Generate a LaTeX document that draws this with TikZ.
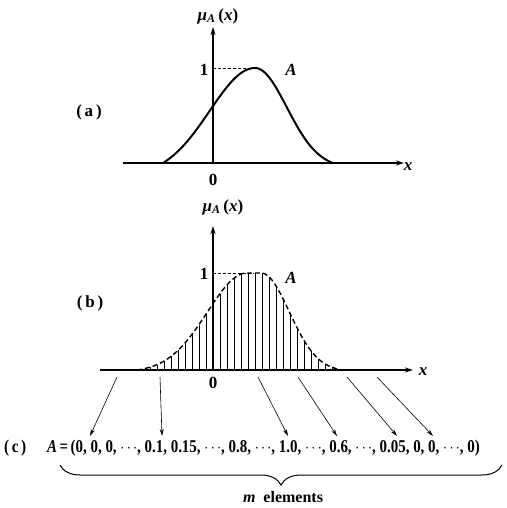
\documentclass[tikz,border=0pt]{standalone}
\usepackage{fontspec}
\setmainfont{Liberation Serif}
\usetikzlibrary{arrows.meta,decorations.pathreplacing}
\begin{document}
\begin{tikzpicture}[x=1pt,y=-1pt,
  lbl/.style={font=\bfseries\fontsize{17}{19}\selectfont, inner sep=0pt},
  axisline/.style={line width=1.4pt, -{Stealth[length=8pt,width=5pt]}},
  curvea/.style={line width=2pt},
  curveb/.style={line width=1.4pt, dash pattern=on 5pt off 3pt},
  hatch/.style={line width=0.9pt},
  guide/.style={line width=0.8pt, dash pattern=on 3pt off 2pt},
  maparrow/.style={line width=0.6pt, -{Stealth[length=7pt,width=4pt]}},
  declare function={
    fa(\x)=(\x<255) ? (95*(exp(-((\x-255)/64)^2)-0.1267)/0.8733) : (95*(exp(-((\x-255)/45)^2)-0.0496)/0.9504);
    fb(\x)=(\x<247) ? (97*(exp(-((\x-247)/56)^2)-0.021)/0.979) : ((\x<261) ? 97 : (97*(exp(-((\x-261)/40)^2)-0.015)/0.985));
  }]
\useasboundingbox (0,0) rectangle (506,508);

% ---------- (a) ----------
\coordinate (ao) at (213,163);
\coordinate (axl) at (123,163);
\coordinate (axr) at (404,163);
\coordinate (ayt) at (213,27);
\coordinate (apk) at (255,68);
\draw[curvea] plot[domain=163:333, samples=120] (\x,{163-fa(\x)});
\draw[axisline] (axl) -- (axr);
\draw[axisline] (ao) -- (ayt);
\draw[guide] (213,68) -- (apk);
\node[lbl] (la) at (89,112) {(\,a\,)};
\node[lbl] (a0) at (213,180) {0};
\node[lbl] (a1) at (204,70) {1};
\node[lbl] (aA) at (291,70) {\textit{A}};
\node[lbl] (ax) at (408,167) {\textit{x}};
\node[lbl] (amu) at (218,16) {\textit{μ}\textsubscript{\textit{A}}\,(\textit{x})};

% ---------- (b) ----------
\coordinate (bo) at (213,370);
\coordinate (bxl) at (100,370);
\coordinate (bxr) at (413,370);
\coordinate (byt) at (213,226);
\coordinate (bpk) at (254,273);
\foreach \k in {-9,...,18}{
  \pgfmathsetmacro\hx{213+7*\k}
  \draw[hatch] (\hx,370) -- (\hx,{370-fb(\hx)});
}
\draw[curveb] plot[domain=137:343, samples=140] (\x,{370-fb(\x)});
\draw[axisline] (bxl) -- (bxr);
\draw[axisline] (bo) -- (byt);
\draw[guide] (213,273) -- (bpk);
\node[lbl] (lb) at (90,303) {(\,b\,)};
\node[lbl] (b0) at (213,383) {0};
\node[lbl] (b1) at (204,274) {1};
\node[lbl] (bA) at (291,278) {\textit{A}};
\node[lbl] (bx) at (423,372) {\textit{x}};
\node[lbl] (bmu) at (223,207) {\textit{μ}\textsubscript{\textit{A}}\,(\textit{x})};

% ---------- (c) ----------
\node[lbl, anchor=base west] (lc) at (4,452) {\fontsize{18}{20}\selectfont\scalebox{0.85}[1]{(\,c\,)}};
\node[lbl, anchor=base west] (vec) at (47,452)
  {\fontsize{18}{20}\selectfont\scalebox{0.83}[1]{\textit{A}\,=\,(0, 0, 0, $\cdots$, 0.1, 0.15, $\cdots$, 0.8, $\cdots$, 1.0, $\cdots$, 0.6, $\cdots$, 0.05, 0, 0, $\cdots$, 0)}};

\coordinate (s1) at (117,377); \coordinate (e1) at (90,436);
\coordinate (s2) at (160,377); \coordinate (e2) at (162,436);
\coordinate (s3) at (258,377); \coordinate (e3) at (288,436);
\coordinate (s4) at (298,377); \coordinate (e4) at (337,436);
\coordinate (s5) at (347,377); \coordinate (e5) at (397,436);
\coordinate (s6) at (377,377); \coordinate (e6) at (433,436);
\foreach \i in {1,...,6}{ \draw[maparrow] (s\i) -- (e\i); }

\coordinate (brl) at (60,465);
\coordinate (brr) at (502,465);
\draw[line width=1pt, decorate, decoration={brace, mirror, amplitude=20pt, aspect=0.5}] (brl) -- (brr);
\node[lbl, anchor=base] (me) at (283,502) {\fontsize{16}{18}\selectfont\textit{m}\ \ elements};
\end{tikzpicture}
\end{document}
